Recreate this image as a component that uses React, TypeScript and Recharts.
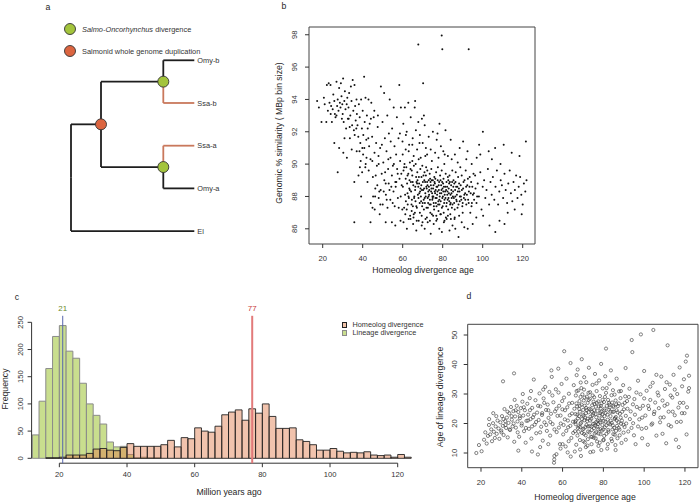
import React from 'react';
import {
  ScatterChart,
  Scatter,
  XAxis,
  YAxis,
  ReferenceArea,
  ReferenceLine,
  ReferenceDot,
} from 'recharts';

const FONT = '"Liberation Sans", Arial, Helvetica, sans-serif';
const INK = '#262626';

// ---------- panel a: gene tree ----------
const tipNames = ['Omy-b', 'Ssa-b', 'Ssa-a', 'Omy-a', 'El'];
const tipRows = [0, 1, 2, 3, 4];
const tipDepth = 123.3;
const nodeNames = ['root', 'wgd', 'specB', 'specA'];
const nodeDepths = [0, 30, 92.3, 92.3];
const nodeRows = [2.75, 1.5, 0.5, 2.5];
const edges: [string, string][] = [
  ['root', 'wgd'],
  ['root', 'El'],
  ['wgd', 'specB'],
  ['wgd', 'specA'],
  ['specB', 'Omy-b'],
  ['specB', 'Ssa-b'],
  ['specA', 'Ssa-a'],
  ['specA', 'Omy-a'],
];
const salmonTips = ['Ssa-b', 'Ssa-a'];

// ---------- panel c: histograms ----------
const binStart = 12;
const binWidth = 2;
const lineageCounts = [43, 105, 165, 224, 244, 197, 184, 138, 100, 79, 63, 30, 21, 22, 7, 1, 2, 1, 1, 0];
const homeologCounts = [
  0, 0, 1, 1, 2, 6, 6, 6, 9, 17, 18, 15, 14, 20, 27, 22, 22, 22, 22, 25, 33, 21, 38, 36, 56, 50, 48, 59,
  80, 85, 89, 70, 91, 83, 100, 77, 55, 55, 56, 34, 31, 25, 15, 15, 18, 13, 10, 11, 10, 12, 6, 5, 6, 2, 7, 2,
];
const lineagePeak = 21;
const homeologPeak = 77;

// ---------- panel b: homeolog age vs genomic similarity ----------
const bUpperLeft: [number, number][] = [
  [17.2, 93.9], [18.1, 93.5], [19.4, 92.6], [20.6, 94.1], [21.0, 93.7], [21.8, 92.6], [22.1, 94.9], [22.6, 93.3],
  [23.0, 95.0], [23.4, 93.8], [23.9, 94.9], [24.2, 93.6], [24.6, 92.6], [25.0, 93.4], [25.3, 94.3], [25.8, 93.9],
  [26.1, 93.1], [26.4, 92.9], [26.9, 95.1], [27.2, 93.6], [27.5, 94.0], [27.9, 93.3], [28.2, 94.7], [28.6, 93.8],
  [28.9, 93.5], [29.1, 95.0], [29.4, 94.2], [29.8, 93.7], [30.0, 93.1], [30.2, 95.3], [30.5, 92.6], [30.8, 93.9],
  [31.1, 94.5], [31.4, 93.4], [31.7, 92.2], [32.0, 93.7], [32.3, 94.1], [32.6, 92.8], [32.9, 93.5], [33.2, 94.4],
  [33.5, 92.3], [33.8, 93.0], [34.1, 94.8], [34.4, 93.9], [34.7, 92.4], [35.0, 95.2], [35.3, 93.3], [35.6, 92.1],
  [35.9, 94.9], [36.2, 93.6], [36.5, 92.7], [36.8, 92.2], [37.1, 93.1], [37.4, 92.4], [37.8, 91.7], [38.1, 93.7],
  [38.5, 92.9], [38.8, 91.3], [39.2, 94.0], [39.6, 92.2], [40.0, 93.3], [40.3, 91.8], [40.7, 95.4], [41.0, 92.6],
  [41.4, 94.1], [41.8, 91.5], [42.1, 93.0], [42.5, 92.2], [42.9, 94.0], [43.2, 91.1],
  [27.5, 89.5], [25.8, 91.3], [28.2, 91.0], [30.3, 90.7], [32.1, 90.4], [33.6, 91.6], [35.8, 88.9], [35.8, 86.4],
  [37.9, 89.3], [39.2, 88.0], [30.9, 91.6], [34.5, 90.9],
  [36.0, 91.8], [37.0, 90.8], [38.6, 89.8], [39.8, 91.0], [26.9, 93.0], [29.6, 92.8], [24.0, 93.1], [33.0, 92.8],
  [36.9, 94.0],
];
const bBand: [number, number][] = [
  [38.4, 90.8], [39.0, 90.2], [39.7, 89.5], [40.2, 90.6], [40.8, 91.0], [41.3, 89.8], [41.9, 90.4], [42.4, 88.9],
  [43.0, 89.6], [43.5, 92.5], [43.9, 90.3], [44.3, 93.8], [44.7, 91.7], [45.1, 89.2], [45.5, 92.9], [45.9, 90.7],
  [46.3, 88.5], [46.7, 91.3], [47.1, 89.9], [47.5, 92.3], [47.9, 90.5], [48.3, 88.3], [48.7, 91.0], [49.1, 94.8],
  [49.5, 89.4], [49.9, 92.6], [50.3, 90.1], [50.7, 94.4], [51.1, 91.6], [51.5, 88.8], [51.9, 90.8], [52.3, 93.0],
  [52.7, 89.7], [53.1, 91.9], [53.5, 94.0], [53.9, 90.4], [54.3, 88.6], [54.7, 92.2], [55.1, 89.9], [55.5, 93.5],
  [55.9, 91.1], [56.3, 88.9], [56.7, 90.6], [57.1, 92.9], [57.5, 89.4], [57.9, 91.6], [58.3, 94.9], [58.7, 90.2],
  [59.1, 93.5], [59.5, 88.7], [59.9, 91.4], [60.3, 92.5], [60.7, 89.8], [61.1, 93.5], [61.5, 90.9], [62.0, 92.0],
  [62.4, 89.3], [62.8, 93.8], [63.2, 91.2], [63.6, 90.1], [64.0, 92.9], [64.5, 89.6], [65.0, 91.6], [65.5, 90.5],
  [66.0, 93.5], [66.6, 92.1], [67.2, 90.9], [67.8, 92.6], [68.4, 91.3], [69.0, 90.4], [69.6, 92.8], [70.2, 95.0],
  [70.6, 93.0], [71.0, 92.4], [71.6, 91.0], [72.2, 90.6], [73.0, 91.7], [74.0, 90.9], [75.1, 92.0], [76.2, 90.7],
  [77.4, 91.9], [78.4, 92.5], [79.1, 91.1], [80.3, 90.8], [81.4, 92.1], [82.6, 90.5], [84.0, 91.5], [86.1, 90.6],
  [88.5, 91.0], [90.2, 91.4], [91.8, 90.3], [92.4, 90.8], [94.5, 90.0], [98.8, 90.6], [100.1, 92.0], [104.6, 90.3],
  [110.5, 91.2], [118.4, 90.5], [121.6, 91.4],
  [44.0, 87.6], [45.2, 88.0], [46.0, 87.2], [47.3, 88.7], [48.0, 87.9], [49.0, 88.4], [50.0, 87.5], [50.8, 89.0],
  [51.6, 88.1], [52.4, 87.3], [53.0, 88.8], [53.8, 87.8], [54.6, 89.3], [55.4, 88.3], [56.0, 87.4], [56.8, 88.9],
  [57.6, 87.9], [58.4, 89.1], [59.0, 88.0], [59.8, 87.2],
  [44.8, 90.2], [46.5, 89.3], [48.0, 90.0], [49.6, 91.2], [51.2, 89.5], [52.8, 90.3], [54.0, 91.4], [55.6, 90.0],
  [57.2, 89.7], [58.6, 91.9], [60.0, 90.6], [61.6, 91.8], [63.0, 90.8], [64.8, 91.2], [66.5, 90.0], [68.6, 91.8],
  [70.0, 91.3], [46.2, 88.0], [48.8, 87.5], [50.5, 88.3], [52.0, 87.8], [53.4, 88.4], [55.0, 87.6], [56.5, 88.6],
  [58.0, 87.3], [59.3, 89.4], [41.5, 90.0], [42.8, 91.6], [44.1, 92.8], [45.8, 93.3], [47.6, 93.0],
];
const bCore: [number, number][] = [
  [60.1, 88.6], [60.4, 89.6], [60.7, 87.3], [60.9, 90.0], [61.2, 88.1], [61.5, 89.1], [61.3, 86.9], [61.8, 89.8],
  [61.6, 87.7], [62.2, 88.8], [62.5, 87.5], [62.8, 89.4], [62.4, 88.2], [63.1, 87.9], [63.4, 89.0], [63.7, 86.8],
  [63.3, 88.5], [63.9, 89.7], [64.2, 88.3], [64.5, 87.1], [64.8, 89.3], [64.1, 88.9], [64.6, 87.8], [65.3, 88.7],
  [65.6, 89.9], [65.1, 87.4], [65.8, 88.0], [65.4, 86.7], [66.2, 88.4], [66.7, 89.2], [66.4, 87.7], [66.9, 88.9],
  [66.1, 87.0], [67.3, 89.5], [67.6, 88.1], [67.1, 87.3], [67.8, 88.6], [67.4, 89.0], [68.2, 88.8], [68.5, 87.6],
  [68.8, 89.7], [68.3, 88.2], [68.6, 87.0], [68.9, 88.5], [69.1, 88.0], [69.4, 89.2], [69.7, 87.4], [69.3, 88.7],
  [69.8, 89.9], [69.5, 86.8], [70.2, 88.4], [70.5, 87.8], [70.8, 89.0], [70.1, 88.9], [70.6, 87.2], [70.9, 89.5],
  [71.3, 88.2], [71.6, 89.3], [71.1, 87.6], [71.8, 88.6], [71.4, 86.6], [71.7, 89.8], [72.2, 88.9], [72.5, 87.9],
  [72.8, 88.3], [72.3, 89.6], [72.6, 87.3], [72.9, 88.0], [73.1, 88.6], [73.4, 87.5], [73.7, 89.1], [73.2, 88.1],
  [73.8, 87.0], [73.5, 89.4], [74.2, 88.3], [74.5, 89.0], [74.8, 87.8], [74.1, 88.7], [74.6, 86.9], [74.9, 88.0],
  [74.3, 89.7], [75.2, 88.5], [75.5, 87.6], [75.8, 89.2], [75.3, 88.0], [75.7, 87.2], [75.9, 88.9], [76.1, 88.8],
  [76.4, 87.9], [76.7, 89.5], [76.2, 88.2], [76.8, 86.8], [76.5, 88.4], [76.9, 87.4], [77.2, 88.1], [77.5, 89.0],
  [77.8, 87.7], [77.3, 88.6], [77.6, 89.8], [77.9, 87.1], [78.1, 88.4], [78.4, 87.5], [78.7, 89.3], [78.2, 88.9],
  [78.5, 88.0], [78.8, 86.9], [78.3, 87.8], [79.2, 88.7], [79.5, 89.6], [79.8, 87.9], [79.3, 88.2], [79.6, 87.3],
  [79.9, 88.5], [80.1, 88.0], [80.4, 89.1], [80.7, 87.6], [80.2, 88.8], [80.8, 90.0], [80.5, 87.0], [81.2, 88.3],
  [81.5, 89.4], [81.8, 87.4], [81.3, 88.6], [81.6, 86.7], [81.9, 88.9], [82.2, 88.6], [82.5, 87.8], [82.8, 89.0],
  [82.3, 88.1], [82.7, 87.2], [83.1, 88.2], [83.4, 89.3], [83.7, 87.5], [83.2, 88.8], [83.8, 86.9], [84.2, 88.7],
  [84.5, 87.9], [84.8, 89.6], [84.3, 88.4], [84.6, 87.3], [85.1, 88.0], [85.4, 89.0], [85.7, 87.6], [85.3, 88.6],
  [85.9, 86.6], [86.2, 88.4], [86.5, 89.5], [86.8, 87.8], [86.4, 88.9], [87.1, 88.1], [87.4, 87.3], [87.7, 89.2],
  [87.3, 88.6], [88.2, 88.8], [88.5, 87.7], [88.8, 89.8], [88.4, 88.3], [89.1, 88.0], [89.5, 89.3], [89.8, 87.4],
  [90.2, 88.5], [90.6, 87.9], [90.9, 89.0], [91.2, 88.2], [91.5, 89.6], [91.8, 87.5], [92.3, 88.7], [92.7, 87.8],
  [93.1, 88.3], [93.5, 89.2], [93.8, 87.0], [94.2, 88.9], [94.6, 87.6], [95.1, 88.1], [95.4, 89.4],
  [62.9, 88.0], [63.6, 88.4], [64.4, 87.5], [65.0, 88.9], [65.7, 87.9], [66.3, 88.6], [66.8, 87.4], [67.2, 88.8],
  [67.9, 87.9], [68.1, 89.2], [68.7, 88.3], [69.2, 87.7], [69.6, 88.4], [70.0, 87.6], [70.4, 89.3], [70.7, 88.5],
  [71.0, 87.9], [71.2, 88.9], [71.5, 88.0], [71.9, 87.3], [72.0, 88.5], [72.4, 88.7], [72.7, 87.6], [73.0, 89.0],
  [73.3, 88.4], [73.6, 87.8], [73.9, 88.9], [74.0, 87.5], [74.4, 88.5], [74.7, 88.2], [75.0, 87.9], [75.1, 89.0],
  [75.4, 88.7], [75.6, 87.4], [76.0, 88.3], [76.3, 89.1], [76.6, 87.6], [76.9, 88.6], [77.0, 87.9], [77.4, 88.3],
  [77.7, 87.5], [78.0, 88.7], [78.6, 88.2], [78.9, 89.0], [79.0, 87.7], [79.4, 88.4], [79.7, 88.9], [80.0, 87.4],
  [80.3, 88.3], [80.6, 88.6], [80.9, 87.8], [81.0, 88.1], [81.4, 87.9], [81.7, 88.4], [82.0, 87.6], [82.4, 88.3],
  [82.6, 89.2], [82.9, 87.9], [83.0, 88.5], [83.3, 87.7], [83.6, 88.9], [83.9, 88.1], [84.0, 87.6], [84.4, 88.2],
  [84.7, 88.9], [84.9, 87.5], [85.2, 88.3], [85.6, 87.9], [85.8, 88.8], [86.0, 87.2], [86.3, 88.0], [86.7, 88.6],
  [87.0, 87.7], [87.6, 88.3], [87.9, 87.5], [88.1, 88.5], [88.6, 88.0], [89.0, 88.7], [89.3, 87.8], [89.6, 88.4],
  [90.0, 87.6], [90.4, 88.9], [90.8, 88.1], [91.3, 87.8], [91.7, 88.6], [92.1, 88.1], [92.6, 89.1], [93.0, 87.6],
  [93.4, 88.6], [94.0, 88.2], [94.4, 87.4], [94.8, 88.6], [95.7, 87.8], [96.4, 88.5], [97.2, 88.0], [62.0, 87.2],
  [63.0, 86.6], [65.5, 86.9], [67.0, 86.5], [69.9, 86.4], [72.1, 86.7], [73.6, 86.5], [75.2, 86.8], [77.2, 86.6],
  [79.1, 86.9], [80.9, 86.5], [82.6, 86.8], [84.1, 86.6], [86.0, 86.7], [88.2, 86.8], [90.0, 87.0], [64.8, 90.2],
  [68.0, 90.3], [71.3, 90.5], [74.6, 90.2], [77.9, 90.4], [81.0, 90.6], [84.5, 90.3], [87.5, 90.1],
];
const bLowerAndRight: [number, number][] = [
  [43.9, 86.4], [44.9, 87.3], [48.5, 86.9], [51.5, 86.4], [54.6, 86.4], [56.3, 86.2], [58.9, 86.5], [60.4, 86.4],
  [62.1, 86.0], [63.9, 86.6], [65.2, 86.3], [66.8, 85.9], [68.0, 86.5], [69.5, 86.2], [71.0, 86.0], [72.5, 86.4],
  [74.0, 85.7], [75.5, 86.3], [76.8, 86.5], [78.3, 86.0], [79.6, 85.8], [80.6, 86.4], [82.0, 86.6], [83.4, 85.9],
  [84.9, 86.2], [86.3, 86.0], [87.9, 85.5], [89.5, 86.4], [90.8, 86.1], [92.5, 86.0], [95.0, 86.3], [96.8, 86.7],
  [100.2, 86.8], [103.4, 86.2], [106.3, 85.8], [108.4, 86.5], [110.9, 86.3], [112.5, 87.0], [116.0, 87.2], [119.5, 86.9],
  [95.6, 88.2], [96.2, 89.3], [96.9, 87.6], [97.5, 88.8], [98.1, 88.0], [98.8, 89.5], [99.4, 87.2], [100.0, 88.6],
  [100.7, 89.0], [101.3, 87.9], [101.9, 88.4], [102.6, 89.7], [103.2, 87.5], [103.9, 88.9], [104.5, 88.1], [105.1, 89.2],
  [105.8, 87.8], [106.4, 88.6], [107.1, 89.6], [107.7, 87.5], [108.3, 88.3], [109.0, 89.0], [109.6, 88.7], [110.2, 87.9],
  [110.9, 89.4], [111.5, 88.4], [112.2, 87.6], [112.8, 88.8], [113.5, 89.6], [114.1, 88.2], [114.8, 87.7], [115.4, 88.9],
  [116.1, 88.4], [116.7, 89.3], [117.4, 87.9], [118.0, 88.6], [118.7, 89.2], [119.3, 88.1], [120.0, 87.5], [120.6, 88.8],
  [121.3, 88.3], [121.9, 89.0], [97.0, 90.4], [103.0, 90.8], [108.9, 90.0], [114.5, 90.7], [98.2, 91.2], [106.2, 91.0],
  [67.8, 97.4], [79.5, 97.96], [79.8, 97.1], [93.0, 97.1], [66.2, 93.9], [77.0, 91.5],
];

// ---------- panel d: homeolog age vs lineage divergence age ----------
const dLeft: [number, number][] = [
  [17.7, 10.0], [19.0, 12.7], [20.3, 10.6], [21.5, 14.5], [22.1, 17.0], [22.8, 13.2], [23.4, 15.8], [23.9, 19.5],
  [24.5, 16.3], [25.0, 18.0], [25.4, 14.0], [25.9, 20.1], [26.3, 17.2], [26.8, 15.1], [27.2, 19.0], [27.7, 16.5],
  [28.1, 21.0], [28.6, 18.3], [29.0, 14.8], [29.5, 20.4], [29.9, 17.6], [30.3, 22.5], [30.7, 19.2], [31.1, 16.1],
  [31.5, 24.9], [31.9, 20.8], [30.8, 34.3], [32.3, 18.5], [32.7, 22.0], [33.1, 15.3], [33.5, 20.2], [33.9, 23.5],
  [34.3, 17.8], [34.7, 25.6], [35.1, 21.3], [35.5, 19.0], [35.9, 24.2], [36.3, 13.8], [36.2, 37.0], [36.7, 22.4],
  [37.1, 18.6], [37.5, 26.0], [37.9, 20.7], [38.3, 10.8], [38.3, 23.9], [38.7, 15.5], [39.1, 21.8], [39.5, 25.2],
  [39.9, 19.3], [40.3, 27.4], [40.7, 22.7], [41.1, 17.4], [41.5, 24.5], [41.9, 13.5], [42.3, 20.9], [42.7, 26.7],
  [43.1, 23.0], [43.5, 18.2], [43.9, 28.6], [44.3, 21.5], [44.7, 14.9], [45.1, 25.3], [45.5, 22.1], [45.9, 34.9],
  [46.3, 19.6], [46.7, 27.9], [47.1, 16.7], [47.5, 23.7], [47.9, 9.5], [48.3, 21.2], [48.7, 30.2], [49.1, 25.8],
  [49.5, 18.9], [49.9, 22.9], [50.3, 14.2], [50.7, 28.5], [51.1, 20.4], [51.5, 32.4], [51.9, 24.6], [52.3, 17.5],
  [30.0, 17.0], [31.0, 21.5], [32.0, 19.5], [33.0, 24.0], [34.0, 18.0], [35.0, 22.5], [36.0, 20.0], [37.0, 24.5],
  [38.0, 17.0], [39.0, 22.5], [40.0, 20.0], [41.0, 25.5], [42.0, 18.5], [43.0, 21.0], [44.0, 24.5], [45.0, 19.0],
  [46.0, 23.0], [47.0, 20.5], [48.0, 26.0], [49.0, 17.0], [50.0, 23.5], [51.0, 27.0], [52.0, 19.5], [44.5, 31.0],
  [50.5, 31.5], [40.5, 30.0], [36.5, 28.0], [27.5, 22.5], [24.0, 21.5], [26.0, 23.5], [49.0, 12.0], [45.0, 10.5],
];
const dMiddle: [number, number][] = [
  [52.7, 26.4], [53.1, 21.9], [53.5, 30.7], [53.9, 15.9], [54.3, 23.3], [54.7, 35.8], [55.1, 19.8], [55.5, 27.2],
  [55.8, 6.7], [55.9, 7.8], [56.0, 9.0], [56.3, 24.1], [56.7, 31.6], [57.1, 17.1], [57.5, 22.6], [57.9, 38.6],
  [58.3, 26.0], [58.7, 13.0], [59.1, 20.0], [59.5, 33.4], [59.9, 24.8], [60.3, 16.3], [60.8, 44.5], [60.7, 28.8],
  [61.1, 21.4], [61.5, 12.2], [61.9, 35.2], [62.3, 25.5], [62.7, 18.7], [63.1, 30.1], [63.5, 22.8], [63.9, 40.5],
  [64.3, 15.1], [64.7, 27.0], [65.1, 20.6], [65.5, 33.0], [57.0, 9.6], [59.0, 11.5], [62.5, 10.2], [64.0, 8.8],
  [66.1, 17.4], [66.3, 23.2], [66.5, 29.5], [66.7, 12.8], [66.9, 36.4], [66.2, 20.5], [67.1, 25.8], [67.3, 15.9],
  [67.5, 21.7], [67.7, 31.2], [67.9, 19.0], [67.4, 38.3], [68.1, 22.5], [68.3, 27.6], [68.5, 14.4], [68.7, 18.8],
  [68.9, 33.9], [68.2, 24.9], [68.6, 11.2], [69.1, 20.3], [69.3, 26.4], [69.5, 16.8], [69.7, 29.9], [69.9, 23.0],
  [69.4, 41.8], [70.1, 24.6], [70.3, 18.2], [70.5, 31.5], [70.7, 21.1], [70.9, 13.6], [70.4, 27.8], [70.6, 35.7],
  [71.1, 22.0], [71.3, 16.0], [71.5, 25.3], [71.7, 19.5], [71.9, 29.1], [71.4, 12.0], [71.6, 34.0], [72.1, 20.8],
  [72.3, 27.0], [72.5, 17.3], [72.7, 23.8], [72.9, 38.9], [72.4, 14.7], [73.1, 25.0], [73.3, 19.1], [73.5, 30.6],
  [73.7, 22.3], [73.9, 15.5], [73.4, 28.4], [73.6, 10.3], [74.1, 21.6], [74.3, 17.8], [74.5, 26.2], [74.7, 33.1],
  [74.9, 19.9], [74.4, 24.0], [75.1, 23.4], [75.3, 15.2], [75.5, 28.9], [75.7, 20.0], [75.9, 36.8], [75.4, 18.4],
  [75.6, 26.6], [76.1, 19.3], [76.3, 25.7], [76.5, 22.1], [76.7, 31.0], [76.9, 13.9], [76.4, 17.0],
  [53.0, 24.5], [54.0, 20.5], [55.0, 29.5], [56.0, 18.0], [57.0, 25.0], [58.0, 30.5], [54.5, 38.0], [53.0, 13.0],
  [60.0, 13.0], [63.0, 14.0], [66.0, 10.5], [69.0, 9.0], [58.2, 18.6], [59.0, 22.7], [59.8, 27.6], [60.5, 19.5],
  [61.2, 24.5], [61.8, 17.5], [62.6, 21.0], [63.2, 26.8], [63.8, 19.2], [64.6, 23.4], [65.2, 16.8], [65.8, 25.0],
];
const dCore: [number, number][] = [
  [77.1, 24.3], [77.3, 21.0], [77.5, 27.5], [77.7, 16.6], [77.9, 34.6], [77.4, 19.8], [77.6, 12.4], [78.1, 22.7],
  [78.3, 29.3], [78.5, 18.1], [78.7, 25.1], [78.9, 40.2], [78.4, 20.4], [79.1, 26.8], [79.3, 17.6], [79.5, 23.1],
  [79.7, 31.9], [79.9, 14.3], [79.4, 21.7], [80.1, 20.9], [80.3, 27.3], [80.5, 24.4], [80.7, 18.7], [80.9, 36.0],
  [80.4, 15.8], [81.1, 23.6], [81.3, 30.4], [81.5, 19.4], [81.3, 45.4], [81.7, 26.0], [81.9, 11.5], [82.1, 21.3],
  [82.3, 28.0], [82.5, 17.2], [82.7, 24.7], [82.9, 33.5], [83.1, 25.4], [83.3, 19.7], [83.5, 22.5], [83.7, 38.0],
  [83.9, 14.8], [84.1, 20.2], [84.3, 27.1], [84.5, 23.9], [84.7, 31.3], [84.9, 16.4], [85.1, 24.0], [85.3, 18.5],
  [85.5, 29.8], [85.7, 21.8], [85.9, 12.7], [86.1, 22.2], [86.3, 26.5], [86.5, 35.2], [86.7, 19.2], [86.9, 15.0],
  [87.1, 25.9], [87.4, 20.5], [87.7, 30.9], [87.9, 17.9], [88.1, 23.3], [88.4, 28.6], [88.7, 19.9], [88.9, 13.4],
  [89.1, 21.0], [89.4, 26.3], [89.7, 33.0], [89.9, 16.9], [90.1, 24.8], [90.4, 18.8], [90.7, 29.2], [90.9, 38.8],
  [66.5, 21.0], [67.5, 18.5], [68.5, 24.0], [69.5, 21.5], [70.5, 16.5], [71.5, 23.5], [72.5, 19.0], [73.5, 21.0],
  [74.5, 15.5], [75.5, 24.5], [76.5, 20.5], [77.5, 18.0], [78.5, 23.5], [79.5, 19.5], [80.5, 22.5], [81.5, 16.5],
  [82.5, 20.0], [83.5, 24.0], [84.5, 18.0], [85.5, 21.5], [86.5, 24.5], [87.5, 18.5], [88.5, 22.0], [66.8, 26.8],
  [68.8, 29.0], [70.8, 26.0], [72.8, 28.0], [74.8, 29.5], [76.8, 27.0], [78.8, 26.0], [80.8, 29.0], [82.8, 27.0],
  [84.8, 26.0], [70.2, 14.0], [72.2, 12.5], [74.2, 13.0], [76.2, 15.0], [78.2, 13.5], [80.2, 14.5], [82.2, 13.0],
  [84.2, 14.0], [86.2, 17.5],
  [66.4, 19.8], [66.9, 31.0], [67.2, 23.0], [67.8, 17.2], [68.4, 26.0], [68.8, 20.0], [69.2, 32.0], [69.8, 18.0],
  [70.3, 22.6], [70.8, 28.8], [71.2, 18.8], [71.8, 24.6], [72.2, 21.6], [72.7, 30.4], [73.2, 17.0], [73.8, 24.8],
  [74.2, 19.0], [74.7, 22.8], [75.2, 27.4], [75.8, 16.6], [76.2, 23.2], [76.6, 33.6], [77.0, 19.0], [77.8, 25.8],
  [78.2, 21.0], [78.6, 16.4], [79.0, 24.0], [79.6, 28.0], [80.0, 18.0], [80.6, 25.0], [81.0, 20.6], [81.6, 32.0],
  [82.0, 23.0], [82.4, 17.8], [83.0, 26.4], [83.6, 21.0], [84.0, 29.6], [84.6, 19.4], [85.0, 25.6], [85.6, 16.2],
  [86.0, 27.8], [86.6, 21.0], [87.0, 23.8], [87.6, 26.8], [88.0, 16.0], [88.6, 31.0], [89.2, 24.0], [89.8, 19.6],
  [75.0, 10.5], [79.0, 11.0], [86.0, 11.0],
];
const dRight: [number, number][] = [
  [91.0, 22.6], [91.6, 27.6], [92.2, 17.3], [92.8, 31.8], [93.4, 24.1], [93.9, 48.3], [94.2, 44.2], [94.6, 20.1],
  [95.2, 28.3], [95.8, 13.0], [96.4, 25.6], [97.0, 34.5], [97.6, 21.4], [98.4, 50.2], [98.2, 29.9], [98.8, 18.2],
  [99.4, 26.0], [100.0, 37.8], [100.6, 22.7], [101.2, 31.1], [101.8, 12.8], [102.4, 24.9], [103.0, 28.0], [103.6, 19.6],
  [104.5, 51.7], [104.2, 33.8], [104.8, 23.2], [105.4, 27.1], [106.0, 15.9], [106.6, 30.5], [107.2, 25.2], [107.8, 20.4],
  [108.4, 35.9], [109.0, 27.8], [109.6, 22.1], [110.2, 31.7], [110.8, 13.3], [111.5, 46.5], [111.4, 26.6], [112.0, 24.0],
  [112.6, 33.2], [113.2, 19.0], [113.8, 28.8], [114.4, 36.5], [115.0, 22.8], [115.6, 14.5], [116.2, 30.0], [116.8, 25.4],
  [117.4, 39.0], [118.0, 20.6], [118.6, 32.6], [119.2, 27.0], [119.8, 23.5], [120.4, 41.0], [121.0, 43.0], [121.6, 30.8],
  [122.0, 36.2], [120.8, 16.3], [117.0, 12.0],
  [90.5, 27.0], [91.2, 20.0], [91.8, 25.0], [92.5, 29.0], [93.0, 21.5], [93.8, 18.5], [94.5, 26.5], [95.5, 23.0],
  [96.2, 30.5], [97.0, 19.0], [98.0, 25.0], [99.0, 22.0], [100.0, 28.5], [101.0, 18.5], [102.0, 26.0], [103.0, 32.5],
  [104.0, 20.0], [105.0, 24.0], [106.0, 36.5], [107.0, 29.5], [108.0, 22.0], [109.0, 16.5], [110.0, 26.0], [111.0, 34.0],
  [112.0, 19.5], [113.0, 29.5], [114.0, 24.0], [115.0, 31.5], [116.0, 20.5], [117.5, 27.0], [118.5, 23.5], [119.5, 35.0],
  [121.0, 25.5], [122.0, 32.0], [91.0, 14.5], [95.0, 16.0], [99.0, 15.0],
];

const bPoints = [...bUpperLeft, ...bBand, ...bCore, ...bLowerAndRight].map(([x, y]) => ({ x, y }));
const dPoints = [...dLeft, ...dMiddle, ...dCore, ...dRight].map(([x, y]) => ({ x, y }));

const ageTicks = [20, 40, 60, 80, 100, 120];

function Txt({
  x,
  y,
  size = 8.7,
  rot = 0,
  anchor = 'middle',
  color = INK,
  children,
}: {
  x: number;
  y: number;
  size?: number;
  rot?: number;
  anchor?: 'start' | 'middle';
  color?: string;
  children: React.ReactNode;
}) {
  const tx = anchor === 'middle' ? '-50%' : '0';
  return (
    <div
      style={{
        position: 'absolute',
        left: x,
        top: y,
        transform: `translate(${tx}, -50%) rotate(${rot}deg)`,
        fontSize: size,
        color,
        whiteSpace: 'nowrap',
        lineHeight: 1,
      }}
    >
      {children}
    </div>
  );
}

const rotTick = (fs: number) => (p: any) => (
  <text
    x={p.x}
    y={p.y}
    transform={`rotate(-90 ${p.x} ${p.y})`}
    textAnchor="middle"
    fontSize={fs}
    fill="#333"
  >
    {p.payload.value}
  </text>
);

function TreePanel() {
  const pos = (name: string) => {
    const t = tipNames.indexOf(name);
    if (t >= 0) return { x: tipDepth, y: tipRows[t] };
    const n = nodeNames.indexOf(name);
    return { x: nodeDepths[n], y: nodeRows[n] };
  };
  const tipData = tipNames.map((name, i) => ({ x: tipDepth, y: tipRows[i], name }));
  return (
    <ScatterChart width={240} height={250} margin={{ top: 0, right: 0, bottom: 0, left: 0 }}>
      <XAxis type="number" dataKey="x" hide domain={[-71, 169]} allowDataOverflow />
      <YAxis type="number" dataKey="y" hide reversed domain={[-1.412, 4.443]} allowDataOverflow />
      {edges.map(([p, c]) => {
        const a = pos(p);
        const b = pos(c);
        const color = salmonTips.includes(c) ? '#c9785c' : '#1e1e1e';
        return (
          <React.Fragment key={p + c}>
            <ReferenceLine
              segment={[{ x: a.x, y: a.y }, { x: a.x, y: b.y }]}
              stroke={color}
              strokeWidth={1.8}
              ifOverflow="visible"
            />
            <ReferenceLine
              segment={[{ x: a.x, y: b.y }, { x: b.x, y: b.y }]}
              stroke={color}
              strokeWidth={1.8}
              ifOverflow="visible"
            />
          </React.Fragment>
        );
      })}
      {nodeNames.slice(1).map((n, i) => (
        <ReferenceDot
          key={n}
          x={nodeDepths[i + 1]}
          y={nodeRows[i + 1]}
          r={5.5}
          fill={n === 'wgd' ? '#dc6540' : '#a3c43c'}
          stroke="#333"
          strokeWidth={0.9}
          ifOverflow="visible"
        />
      ))}
      <Scatter
        data={tipData}
        isAnimationActive={false}
        shape={(p: any) => (
          <text x={p.cx + 3} y={p.cy + 2.6} fontSize={7.4} fill="#333">
            {p.payload.name}
          </text>
        )}
      />
    </ScatterChart>
  );
}

function PanelB() {
  return (
    <ScatterChart width={280} height={280} margin={{ top: 27, right: 5, bottom: 6, left: 19 }}>
      <XAxis
        type="number"
        dataKey="x"
        domain={[13.15, 126.15]}
        allowDataOverflow
        ticks={ageTicks}
        height={30}
        axisLine={false}
        tickSize={4}
        tickMargin={8}
        stroke="#333"
        tick={{ fontSize: 7.6, fill: '#333' }}
      />
      <YAxis
        type="number"
        dataKey="y"
        domain={[85.06, 98.48]}
        allowDataOverflow
        ticks={[86, 88, 90, 92, 94, 96, 98]}
        width={30}
        axisLine={false}
        tickSize={4}
        tickMargin={8}
        stroke="#333"
        tick={rotTick(7.6)}
      />
      <ReferenceArea
        x1={13.15}
        x2={126.15}
        y1={85.06}
        y2={98.48}
        fill="none"
        stroke="#444"
        strokeWidth={1}
        ifOverflow="visible"
      />
      <Scatter
        data={bPoints}
        isAnimationActive={false}
        shape={(p: any) => <circle cx={p.cx} cy={p.cy} r={1} fill="#111" />}
      />
    </ScatterChart>
  );
}

function PanelD() {
  return (
    <ScatterChart width={280} height={214} margin={{ top: 34.3, right: 2, bottom: 6.3, left: 17.7 }}>
      <XAxis
        type="number"
        dataKey="x"
        domain={[13.48, 126.4]}
        allowDataOverflow
        ticks={ageTicks}
        height={30}
        axisLine={false}
        tickSize={4}
        tickMargin={8}
        stroke="#333"
        tick={{ fontSize: 7.6, fill: '#333' }}
      />
      <YAxis
        type="number"
        dataKey="y"
        domain={[5.02, 53.63]}
        allowDataOverflow
        ticks={[10, 20, 30, 40, 50]}
        width={30}
        axisLine={false}
        tickSize={4}
        tickMargin={7}
        stroke="#333"
        tick={rotTick(7.6)}
      />
      <ReferenceArea
        x1={13.48}
        x2={126.4}
        y1={5.02}
        y2={53.63}
        fill="none"
        stroke="#444"
        strokeWidth={1}
        ifOverflow="visible"
      />
      <Scatter
        data={dPoints}
        isAnimationActive={false}
        shape={(p: any) => (
          <circle cx={p.cx} cy={p.cy} r={1.6} fill="none" stroke="#333" strokeWidth={0.6} />
        )}
      />
    </ScatterChart>
  );
}

function PanelC() {
  const lineageBins = lineageCounts
    .map((n, i) => ({ x0: binStart + i * binWidth, n }))
    .filter((b) => b.n > 0);
  const homeologBins = homeologCounts
    .map((n, i) => ({ x0: binStart + i * binWidth, n }))
    .filter((b) => b.n > 0);
  const anchor = lineageBins.map((b) => ({ x: b.x0 + binWidth / 2, y: b.n }));
  return (
    <ScatterChart width={420} height={214} margin={{ top: 25.8, right: 2, bottom: 10.8, left: 6.6 }}>
      <XAxis
        type="number"
        dataKey="x"
        domain={[11.8, 126]}
        allowDataOverflow
        ticks={ageTicks}
        height={30}
        axisLine={false}
        tickSize={4}
        tickMargin={4}
        stroke="#333"
        tick={{ fontSize: 7.6, fill: '#333' }}
      />
      <YAxis
        type="number"
        dataKey="y"
        domain={[-9, 262]}
        allowDataOverflow
        ticks={[0, 50, 100, 150, 200, 250]}
        width={25}
        axisLine={false}
        tickSize={4}
        tickMargin={5}
        stroke="#333"
        tick={rotTick(7.6)}
      />
      {lineageBins.map((b) => (
        <ReferenceArea
          key={'l' + b.x0}
          x1={b.x0}
          x2={b.x0 + binWidth}
          y1={0}
          y2={b.n}
          fill="#c9de8e"
          fillOpacity={1}
          stroke="#8a8a8a"
          strokeWidth={1}
          ifOverflow="visible"
        />
      ))}
      {homeologBins.map((b) => (
        <ReferenceArea
          key={'h' + b.x0}
          x1={b.x0}
          x2={b.x0 + binWidth}
          y1={0}
          y2={b.n}
          fill="#e07a4a"
          fillOpacity={0.45}
          stroke="#222"
          strokeWidth={0.9}
          ifOverflow="visible"
        />
      ))}
      <ReferenceLine
        segment={[{ x: 20, y: -9 }, { x: 120, y: -9 }]}
        stroke="#333"
        ifOverflow="visible"
      />
      <ReferenceLine
        segment={[{ x: 11.8, y: 0 }, { x: 11.8, y: 250 }]}
        stroke="#333"
        ifOverflow="visible"
      />
      <ReferenceLine
        x={lineagePeak}
        stroke="#5766ad"
        strokeWidth={1}
        ifOverflow="visible"
        label={{ value: String(lineagePeak), position: 'top', fill: '#6b8a2a', fontSize: 8 }}
      />
      <ReferenceLine
        x={homeologPeak}
        stroke="#e27a7a"
        strokeWidth={2}
        ifOverflow="visible"
        label={{ value: String(homeologPeak), position: 'top', fill: '#c8383a', fontSize: 8 }}
      />
      <Scatter data={anchor} isAnimationActive={false} shape={() => <g />} />
    </ScatterChart>
  );
}

export default function App() {
  return (
    <div
      style={{
        position: 'absolute',
        left: 0,
        top: 0,
        width: 700,
        height: 504,
        background: '#fff',
        overflow: 'hidden',
        fontFamily: FONT,
      }}
    >
      {/* panel a */}
      <div style={{ position: 'absolute', left: 0, top: 0 }}>
        <TreePanel />
      </div>
      <Txt x={48} y={7}>a</Txt>
      <svg width={240} height={70} style={{ position: 'absolute', left: 0, top: 0 }}>
        <circle cx={70} cy={29} r={5.5} fill="#a3c43c" stroke="#333" strokeWidth={0.9} />
        <circle cx={70} cy={51} r={5.5} fill="#dc6540" stroke="#333" strokeWidth={0.9} />
        <text x={82} y={31.7} fontSize={7.4} fill="#333">
          <tspan fontStyle="italic">Salmo-Oncorhynchus</tspan> divergence
        </text>
        <text x={82} y={53.7} fontSize={7.4} fill="#333">
          Salmonid whole genome duplication
        </text>
      </svg>

      {/* panel b */}
      <div style={{ position: 'absolute', left: 260, top: 0 }}>
        <PanelB />
      </div>
      <Txt x={284} y={6}>b</Txt>
      <Txt x={423} y={269.5}>Homeolog divergence age</Txt>
      <Txt x={279} y={133} rot={-90}>Genomic % similarity ( MBp bin size)</Txt>

      {/* panel c */}
      <div style={{ position: 'absolute', left: 0, top: 290 }}>
        <PanelC />
      </div>
      <Txt x={17} y={297}>c</Txt>
      <Txt x={229} y={491.5}>Million years ago</Txt>
      <Txt x={5} y={389} rot={-90}>Frequency</Txt>
      <div
        style={{
          position: 'absolute', left: 341.5, top: 322, width: 5.5, height: 5.5,
          background: '#f0c2a8', border: '1px solid #222', boxSizing: 'border-box',
        }}
      />
      <div
        style={{
          position: 'absolute', left: 341.5, top: 330, width: 5.5, height: 5.5,
          background: '#c9de8e', border: '1px solid #8a8a8a', boxSizing: 'border-box',
        }}
      />
      <Txt x={352.5} y={324.8} size={7.3} anchor="start" color="#333">Homeolog divergence</Txt>
      <Txt x={352.5} y={332.8} size={7.3} anchor="start" color="#333">Lineage divergence</Txt>

      {/* panel d */}
      <div style={{ position: 'absolute', left: 420, top: 290 }}>
        <PanelD />
      </div>
      <Txt x={469} y={296}>d</Txt>
      <Txt x={585} y={497}>Homeolog divergence age</Txt>
      <Txt x={440} y={397} rot={-90}>Age of lineage divergence</Txt>
    </div>
  );
}
